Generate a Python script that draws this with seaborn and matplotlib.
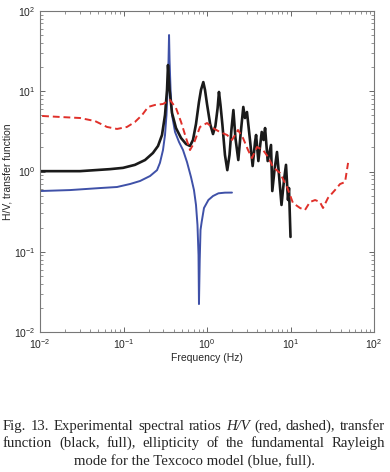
import numpy as np
import pandas as pd
import seaborn as sns
import matplotlib.pyplot as plt
from matplotlib.ticker import LogLocator, NullFormatter

# Datos (frecuencia en Hz, amplitud)
# H/V experimental (rojo, discontinuo)
hv_freq = [0.0106, 0.0174, 0.0302, 0.0456, 0.0634, 0.0836, 0.110, 0.137, 0.167, 0.197,
           0.238, 0.297, 0.360, 0.425, 0.489, 0.561, 0.626, 0.698, 0.824, 1.00,
           1.18, 1.43, 1.74, 1.99, 2.35, 2.70, 3.10, 3.46, 3.97, 4.69,
           5.38, 6.17, 7.48, 9.08, 9.86, 10.7, 13.0, 14.9, 17.1, 19.7,
           22.5, 24.5, 28.1, 34.1, 39.2, 45.0, 48.9]
hv_amp = [4.92, 4.78, 4.64, 4.25, 3.59, 3.39, 3.59, 4.14, 5.06, 6.37,
          6.75, 6.94, 7.78, 6.18, 4.14, 2.61, 1.85, 2.26, 3.59, 4.02,
          3.48, 3.10, 2.85, 2.47, 3.29, 2.61, 1.85, 1.47, 2.02, 1.85,
          1.52, 1.14, 0.957, 0.641, 0.509, 0.405, 0.351, 0.331, 0.417, 0.441,
          0.417, 0.351, 0.468, 0.587, 0.698, 0.739, 1.28]

# Funcion de transferencia (negro)
tf_freq = [0.0100, 0.0301, 0.0689, 0.0987, 0.137, 0.181, 0.225, 0.259, 0.289, 0.314,
           0.332, 0.341, 0.356, 0.381, 0.425, 0.489, 0.561, 0.626, 0.679, 0.738,
           0.801, 0.847, 0.903, 0.946, 1.00, 1.09, 1.18, 1.26, 1.34, 1.39,
           1.45, 1.53, 1.64, 1.75, 1.86, 1.96, 2.07, 2.19, 2.37, 2.52,
           2.72, 2.85, 3.01, 3.27, 3.52, 3.76, 3.87, 4.12, 4.52, 4.75,
           4.96, 5.33, 5.84, 6.05, 6.43, 6.89, 7.28, 7.80, 8.36, 8.83,
           9.33, 9.59, 10.0]
tf_amp = [1.01, 1.01, 1.07, 1.11, 1.21, 1.39, 1.70, 2.08, 2.85, 5.06,
          10.4, 21.2, 10.4, 5.36, 3.48, 2.61, 2.20, 2.08, 2.47, 3.91,
          7.35, 10.4, 13.0, 10.4, 6.93, 3.91, 2.93, 3.69, 6.18, 9.8,
          6.74, 3.79, 1.61, 1.04, 1.61, 3.29, 5.83, 2.61, 1.39, 2.85,
          6.37, 4.64, 5.51, 2.47, 1.17, 2.33, 2.85, 1.35, 3.11, 2.47,
          3.48, 1.35, 2.14, 0.571, 1.04, 1.75, 0.904, 0.383, 0.783, 1.21,
          0.442, 0.622, 0.153]

# Elipticidad del modo fundamental de Rayleigh (azul)
el_freq = [0.0100, 0.0229, 0.0524, 0.0836, 0.120, 0.158, 0.208, 0.252, 0.273, 0.297,
           0.314, 0.327, 0.337, 0.346, 0.351, 0.356, 0.366, 0.381, 0.414, 0.462,
           0.516, 0.576, 0.643, 0.698, 0.738, 0.769, 0.791, 0.801, 0.818, 0.836,
           0.863, 0.920, 1.04, 1.18, 1.37, 1.64, 1.99]
el_amp = [0.571, 0.587, 0.622, 0.641, 0.699, 0.762, 0.879, 1.04, 1.28, 1.85,
          2.85, 5.06, 10.4, 24.5, 50.2, 24.5, 10.4, 5.06, 3.11, 2.33,
          1.85, 1.31, 0.853, 0.587, 0.383, 0.215, 0.0912, 0.0223, 0.0789, 0.187,
          0.235, 0.351, 0.442, 0.495, 0.535, 0.545, 0.546]

caption = [["Fig.", "13.", "Experimental", "spectral", "ratios", "H/V", "(red,", "dashed),", "transfer"],
           ["function", "(black,", "full),", "ellipticity", "of", "the", "fundamental", "Rayleigh"],
           ["mode for the Texcoco model (blue, full)."]]

sns.set_style("ticks")
plt.rcParams["font.family"] = ["Liberation Sans", "DejaVu Sans"]

fig = plt.figure(figsize=(3.9, 4.72), dpi=100)
ax = fig.add_axes([0.1026, 0.2966, 0.8564, 0.6801])

df_hv = pd.DataFrame({"f": hv_freq, "a": hv_amp})
df_tf = pd.DataFrame({"f": tf_freq, "a": tf_amp})
df_el = pd.DataFrame({"f": el_freq, "a": el_amp})

sns.lineplot(data=df_el, x="f", y="a", estimator=None, sort=False, color="#3f51a8", lw=1.4, ax=ax)
sns.lineplot(data=df_tf, x="f", y="a", estimator=None, sort=False, color="#1a1a1a", lw=1.9, ax=ax)
sns.lineplot(data=df_hv, x="f", y="a", estimator=None, sort=False, color="#e0302a", lw=1.4,
             ls=(0, (3.5, 2)), ax=ax)

ax.set_xscale("log")
ax.set_yscale("log")
ax.set_xlim(1e-2, 1e2)
ax.set_ylim(1e-2, 1e2)
ax.xaxis.set_major_locator(LogLocator(base=10, numticks=10))
ax.yaxis.set_major_locator(LogLocator(base=10, numticks=10))
ax.xaxis.set_minor_locator(LogLocator(base=10, subs=np.arange(2, 10), numticks=20))
ax.yaxis.set_minor_locator(LogLocator(base=10, subs=np.arange(2, 10), numticks=20))
ax.xaxis.set_minor_formatter(NullFormatter())
ax.yaxis.set_minor_formatter(NullFormatter())
ax.tick_params(which="both", direction="in", top=True, right=True, color="#666666", labelsize=7.5)
ax.tick_params(which="major", length=3.5, width=0.7)
ax.tick_params(which="minor", length=2, width=0.5)
for s in ax.spines.values():
    s.set_color("#777777")
    s.set_linewidth(0.8)

ax.set_xlabel("Frequency (Hz)", fontsize=7.5, labelpad=1.5)
ax.set_ylabel("H/V, transfer function", fontsize=7.5, labelpad=1)

# pie de figura justificado
fig.canvas.draw()
r = fig.canvas.get_renderer()
W, H = fig.bbox.width, fig.bbox.height
x0, x1 = 3, 385
baselines = [430, 447, 465]
serif = ["Liberation Serif", "DejaVu Serif"]

# tamano de letra para que la primera linea ocupe casi todo el ancho
probe = fig.text(0, 0, " ".join(caption[0]), family=serif, fontsize=10)
fs = 10 * 376 / probe.get_window_extent(r).width
probe.remove()

for words, yb in zip(caption[:2], baselines[:2]):
    texts = [fig.text(0, 1 - yb / H, w, family=serif, fontsize=fs, va="baseline",
                      style="italic" if w == "H/V" else "normal") for w in words]
    widths = [t.get_window_extent(r).width for t in texts]
    gap = (x1 - x0 - sum(widths)) / (len(words) - 1)
    pos = x0
    for t, w in zip(texts, widths):
        t.set_x(pos / W)
        pos += w + gap
fig.text(0.5, 1 - baselines[2] / H, caption[2][0], family=serif, fontsize=fs,
         va="baseline", ha="center")

fig.savefig("out.png", dpi=100)
